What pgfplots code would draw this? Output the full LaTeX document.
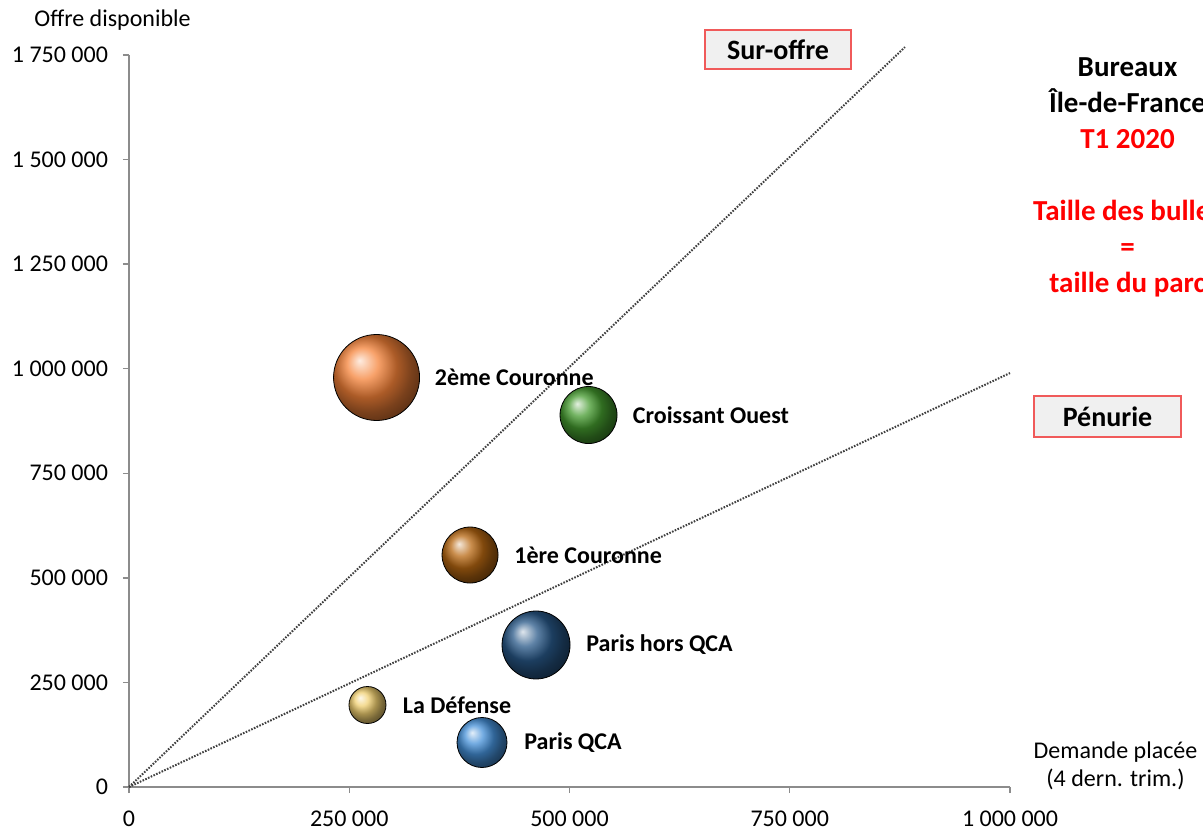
\documentclass[border=0pt]{standalone}
\usepackage{pgfplots}
\pgfplotsset{compat=1.18}
\usepackage{fontspec}
\setmainfont{Carlito}
\definecolor{cOrange}{HTML}{F58238}
\definecolor{cGreen}{HTML}{449A2E}
\definecolor{cBrown}{HTML}{B86812}
\definecolor{cNavy}{HTML}{285888}
\definecolor{cSand}{HTML}{F0CF70}
\definecolor{cBlue}{HTML}{4590D8}
\definecolor{cRed}{HTML}{FF0000}
\definecolor{cBoxRed}{HTML}{F05A5A}
\definecolor{cAxis}{HTML}{8C8C8C}
\begin{document}
\begin{tikzpicture}
\begin{axis}[
  at={(0,0)}, anchor=origin,
  scale only axis, width=440.5pt, height=366pt,
  xmin=0, xmax=1000000, ymin=0, ymax=1750000,
  scaled ticks=false,
  axis x line*=bottom, axis y line*=left,
  axis line style={cAxis, line width=0.7pt},
  tick align=outside, major tick length=3pt,
  tick style={cAxis, line width=0.7pt},
  xtick={0,250000,500000,750000,1000000},
  xticklabels={0,250 000,500 000,750 000,1 000 000},
  ytick={0,250000,500000,750000,1000000,1250000,1500000,1750000},
  yticklabels={0,250 000,500 000,750 000,1 000 000,1 250 000,1 500 000,1 750 000},
  tick label style={font=\fontsize{12}{14}\selectfont, text=black},
  yticklabel style={xshift=-4pt},
  xticklabel style={yshift=-5.5pt},
  clip=false,
  nodes near coords style={anchor=west, inner xsep=0pt, font=\bfseries\fontsize{12}{14}\selectfont, text=black},
]
% reference lines
\addplot[color=gray!50!black, line width=1pt, dash pattern=on 0.8pt off 0.7pt] coordinates {(0,0) (880800,1769000)};
\addplot[color=gray!50!black, line width=1pt, dash pattern=on 0.8pt off 0.7pt] coordinates {(0,0) (1000000,989700)};
% bubbles
\addplot[only marks, mark=ball, mark size=21.5pt, mark options={ball color=cOrange, draw=none},
  nodes near coords={2ème Couronne}, nodes near coords style={xshift=29pt}] coordinates {(281000,979000)};
\addplot[only marks, mark=ball, mark size=14.25pt, mark options={ball color=cGreen, draw=none},
  nodes near coords={Croissant Ouest}, nodes near coords style={xshift=22pt}] coordinates {(521600,889300)};
\addplot[only marks, mark=ball, mark size=14pt, mark options={ball color=cBrown, draw=none},
  nodes near coords={1ère Couronne}, nodes near coords style={xshift=22pt}] coordinates {(387100,554600)};
\addplot[only marks, mark=ball, mark size=17pt, mark options={ball color=cNavy, draw=none},
  nodes near coords={Paris hors QCA}, nodes near coords style={xshift=25pt}] coordinates {(462000,339500)};
\addplot[only marks, mark=ball, mark size=9.25pt, mark options={ball color=cSand, draw=none},
  nodes near coords={La Défense}, nodes near coords style={xshift=17.5pt}] coordinates {(270700,196000)};
\addplot[only marks, mark=ball, mark size=12.5pt, mark options={ball color=cBlue, draw=none},
  nodes near coords={Paris QCA}, nodes near coords style={xshift=21pt}] coordinates {(400700,106400)};
% annotations
\node[font=\fontsize{12}{14}\selectfont] at (axis cs:-18700,1833700) {Offre disponible};
\node[align=center, font=\fontsize{12}{14}\selectfont] at (axis cs:1119750,50200) {Demande placée\\(4 dern. trim.)};
\node[draw=cBoxRed, fill=gray!12, line width=0.8pt, minimum width=73pt, minimum height=19.5pt, inner sep=0pt,
  font=\bfseries\fontsize{14}{16}\selectfont] at (axis cs:736700,1763000) {Sur-offre};
\node[draw=cBoxRed, fill=gray!12, line width=0.8pt, minimum width=73.5pt, minimum height=20.5pt, inner sep=0pt,
  font=\bfseries\fontsize{14}{16}\selectfont] at (axis cs:1110700,885800) {Pénurie};
\node[align=center, anchor=north, inner sep=0pt, font=\bfseries\fontsize{14.5}{18}\selectfont]
  at (axis cs:1133400,1745000) {Bureaux\\Île-de-France\\\textcolor{cRed}{T1 2020}\\[18pt]\textcolor{cRed}{Taille des bulles}\\\textcolor{cRed}{=}\\\textcolor{cRed}{taille du parc}};
\end{axis}
\pgfresetboundingbox
\path[use as bounding box] (-64.5pt,-22pt) rectangle (537pt,393.5pt);
\end{tikzpicture}
\end{document}
